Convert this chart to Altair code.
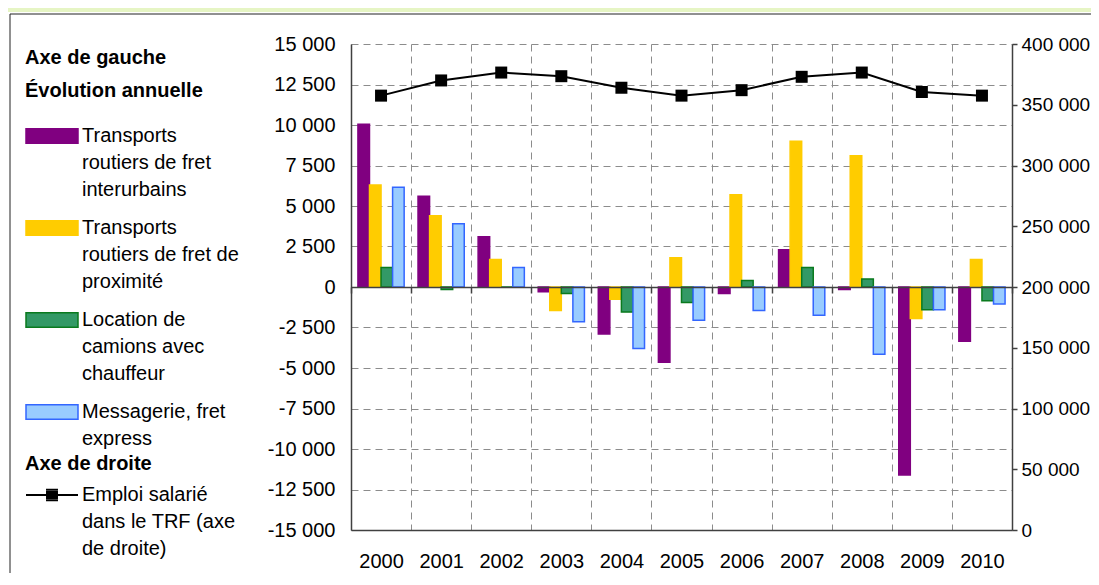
import json
import altair as alt
import pandas as pd

# ---------------- data ----------------
years = ["2000", "2001", "2002", "2003", "2004", "2005", "2006", "2007", "2008", "2009", "2010"]

series = [
    "Transports routiers de fret interurbains",
    "Transports routiers de fret de proximité",
    "Location de camions avec chauffeur",
    "Messagerie, fret express",
]
series_lines = [
    ["Transports", "routiers de fret", "interurbains"],
    ["Transports", "routiers de fret de", "proximité"],
    ["Location de", "camions avec", "chauffeur"],
    ["Messagerie, fret", "express"],
]
interurbains = [10050, 5600, 3100, -300, -2900, -4650, -400, 2300, -150, -11600, -3350]
proximite = [6300, 4400, 1700, -1450, -750, 1800, 5700, 9000, 8100, -1950, 1700]
location = [1200, -150, 0, -400, -1550, -950, 400, 1200, 500, -1400, -850]
messagerie = [6150, 3900, 1200, -2150, -3800, -2050, -1450, -1750, -4150, -1400, -1050]

line_name = "Emploi salarié dans le TRF (axe de droite)"
line_lines = ["Emploi salarié", "dans le TRF (axe", "de droite)"]
emploi = [357500, 370000, 376500, 373500, 364000, 357500, 362000, 373000, 376500, 360500, 357500]

left_ticks = list(range(-15000, 15001, 2500))
right_ticks = list(range(0, 400001, 50000))

fills = ["#800080", "#FFCC00", "#339966", "#99CCFF"]
strokes = ["#800080", "#FFCC00", "#0A7A1E", "#3366FF"]

# ---------------- tables ----------------
bar_df = pd.DataFrame(
    [
        {"year": y, "series": s, "value": v}
        for s, vals in zip(series, [interurbains, proximite, location, messagerie])
        for y, v in zip(years, vals)
    ]
)
line_df = pd.DataFrame({"year": years, "emploi": emploi, "serie": [line_name] * len(years)})

FONT = "Liberation Sans"
num_expr = "replace(join(split(format(datum.value, ','), ','), ' '), '\u2212', '-')"
series_map = json.dumps(dict(zip(series, series_lines)), ensure_ascii=False)
line_map = json.dumps({line_name: line_lines}, ensure_ascii=False)

rect_path = "M-1,-0.28H1V0.28H-1Z"
# line with a (stroke-filled) square marker in the middle
line_path = (
    "M-1,0H1"
    "M-0.23,-0.2H0.23M-0.23,-0.12H0.23M-0.23,-0.04H0.23"
    "M-0.23,0.04H0.23M-0.23,0.12H0.23M-0.23,0.2H0.23"
)

# ---------------- decorations ----------------
frame = alt.Chart(alt.Data(values=[{"k": 1}])).mark_rect(
    filled=False, stroke="#222222", strokeWidth=1
).encode(
    x=alt.value(-341), x2=alt.value(800), y=alt.value(-30), y2=alt.value(600)
)
banner = alt.Chart(alt.Data(values=[{"k": 1}])).mark_rect(
    fill="#E6F5C4", stroke=None
).encode(
    x=alt.value(-343), x2=alt.value(800), y=alt.value(-36), y2=alt.value(-32)
)

# ---------------- bars ----------------
legend_left = dict(
    title=["Axe de gauche", "Évolution annuelle"], orient="none", direction="vertical",
    legendX=-326, legendY=4, symbolType=rect_path, symbolSize=2704,
    symbolStrokeWidth=1.5, labelOffset=3, rowPadding=1, titlePadding=8,
    labelLimit=400, labelExpr=f"{series_map}[datum.label]", titleLineHeight=33,
    padding=0,
)
x_axis_labels = alt.Axis(
    orient="bottom", labelAngle=0, labelPadding=21, ticks=False, tickBand="extent",
    grid=True, gridDash=[7, 5], gridColor="#8C8C8C", gridWidth=1,
    domainColor="#404040", domainWidth=1.5, title=None,
)
bars = alt.Chart(bar_df).mark_bar(strokeWidth=1.5).encode(
    x=alt.X("year:N", sort=years, scale=alt.Scale(paddingInner=0, paddingOuter=0), axis=x_axis_labels),
    xOffset=alt.XOffset("series:N", sort=series, scale=alt.Scale(domain=series, paddingOuter=0.6, paddingInner=0)),
    y=alt.Y(
        "value:Q",
        scale=alt.Scale(domain=[-15000, 15000], nice=False),
        axis=alt.Axis(
            values=left_ticks, labelExpr=num_expr, ticks=False, labelPadding=16,
            domainColor="#404040", domainWidth=1.5, grid=True, gridDash=[7, 5],
            gridColor="#8C8C8C", gridWidth=1, title=None,
        ),
    ),
    fill=alt.Fill(
        "series:N", sort=series, scale=alt.Scale(domain=series, range=fills),
        legend=alt.Legend(**legend_left),
    ),
    stroke=alt.Stroke(
        "series:N", sort=series, scale=alt.Scale(domain=series, range=strokes),
        legend=alt.Legend(**legend_left),
    ),
)

# ---------------- line (right axis) ----------------
x_axis_zero = alt.Axis(
    orient="bottom", offset=-243, labels=False, grid=False, ticks=True, tickBand="extent",
    tickSize=6, tickColor="#404040", tickWidth=1.5, domainColor="#404040", domainWidth=1.5,
    title=None, zindex=1,
)
right_axis = alt.Axis(
    orient="right", values=right_ticks, labelExpr=num_expr, tickSize=5, tickColor="#404040",
    tickWidth=1.5, domainColor="#404040", domainWidth=1.5, grid=False, title=None,
    labelPadding=4, labelFontSize=19,
)
line_base = alt.Chart(line_df).encode(
    x=alt.X("year:N", sort=years, axis=x_axis_zero),
    y=alt.Y("emploi:Q", scale=alt.Scale(domain=[0, 400000], nice=False), axis=right_axis),
)
line = line_base.mark_line(color="black", strokeWidth=2).encode(
    opacity=alt.Opacity(
        "serie:O", scale=alt.Scale(range=[1]),
        legend=alt.Legend(
            title="Axe de droite", orient="none", direction="vertical",
            legendX=-326, legendY=410, symbolType=line_path, symbolSize=2704,
            symbolStrokeColor="black", symbolStrokeWidth=2,
            labelOffset=3, titlePadding=-6, labelLimit=400,
            labelExpr=f"{line_map}[datum.label]", padding=0,
        ),
    )
)
pts = line_base.mark_square(size=144, color="black", opacity=1)
line_layer = alt.layer(line, pts)

chart = (
    alt.layer(frame, banner, bars, line_layer)
    .resolve_scale(y="independent")
    .resolve_axis(x="independent")
    .properties(
        width=661, height=486,
        padding={"left": 343, "top": 36, "right": 79, "bottom": 43},
        autosize=alt.AutoSizeParams(type="none"),
        background="white",
    )
    .configure(style={"guide-label": {"lineHeight": 27}})
    .configure_view(stroke=None)
    .configure_axis(labelFont=FONT, labelFontSize=20, labelColor="black")
    .configure_legend(
        labelFont=FONT, labelFontSize=20, labelColor="black",
        titleFont=FONT, titleFontSize=20, titleFontWeight="bold", titleColor="black",
    )
)

chart.save("out.html", embed_options={"renderer": "svg", "actions": False})
